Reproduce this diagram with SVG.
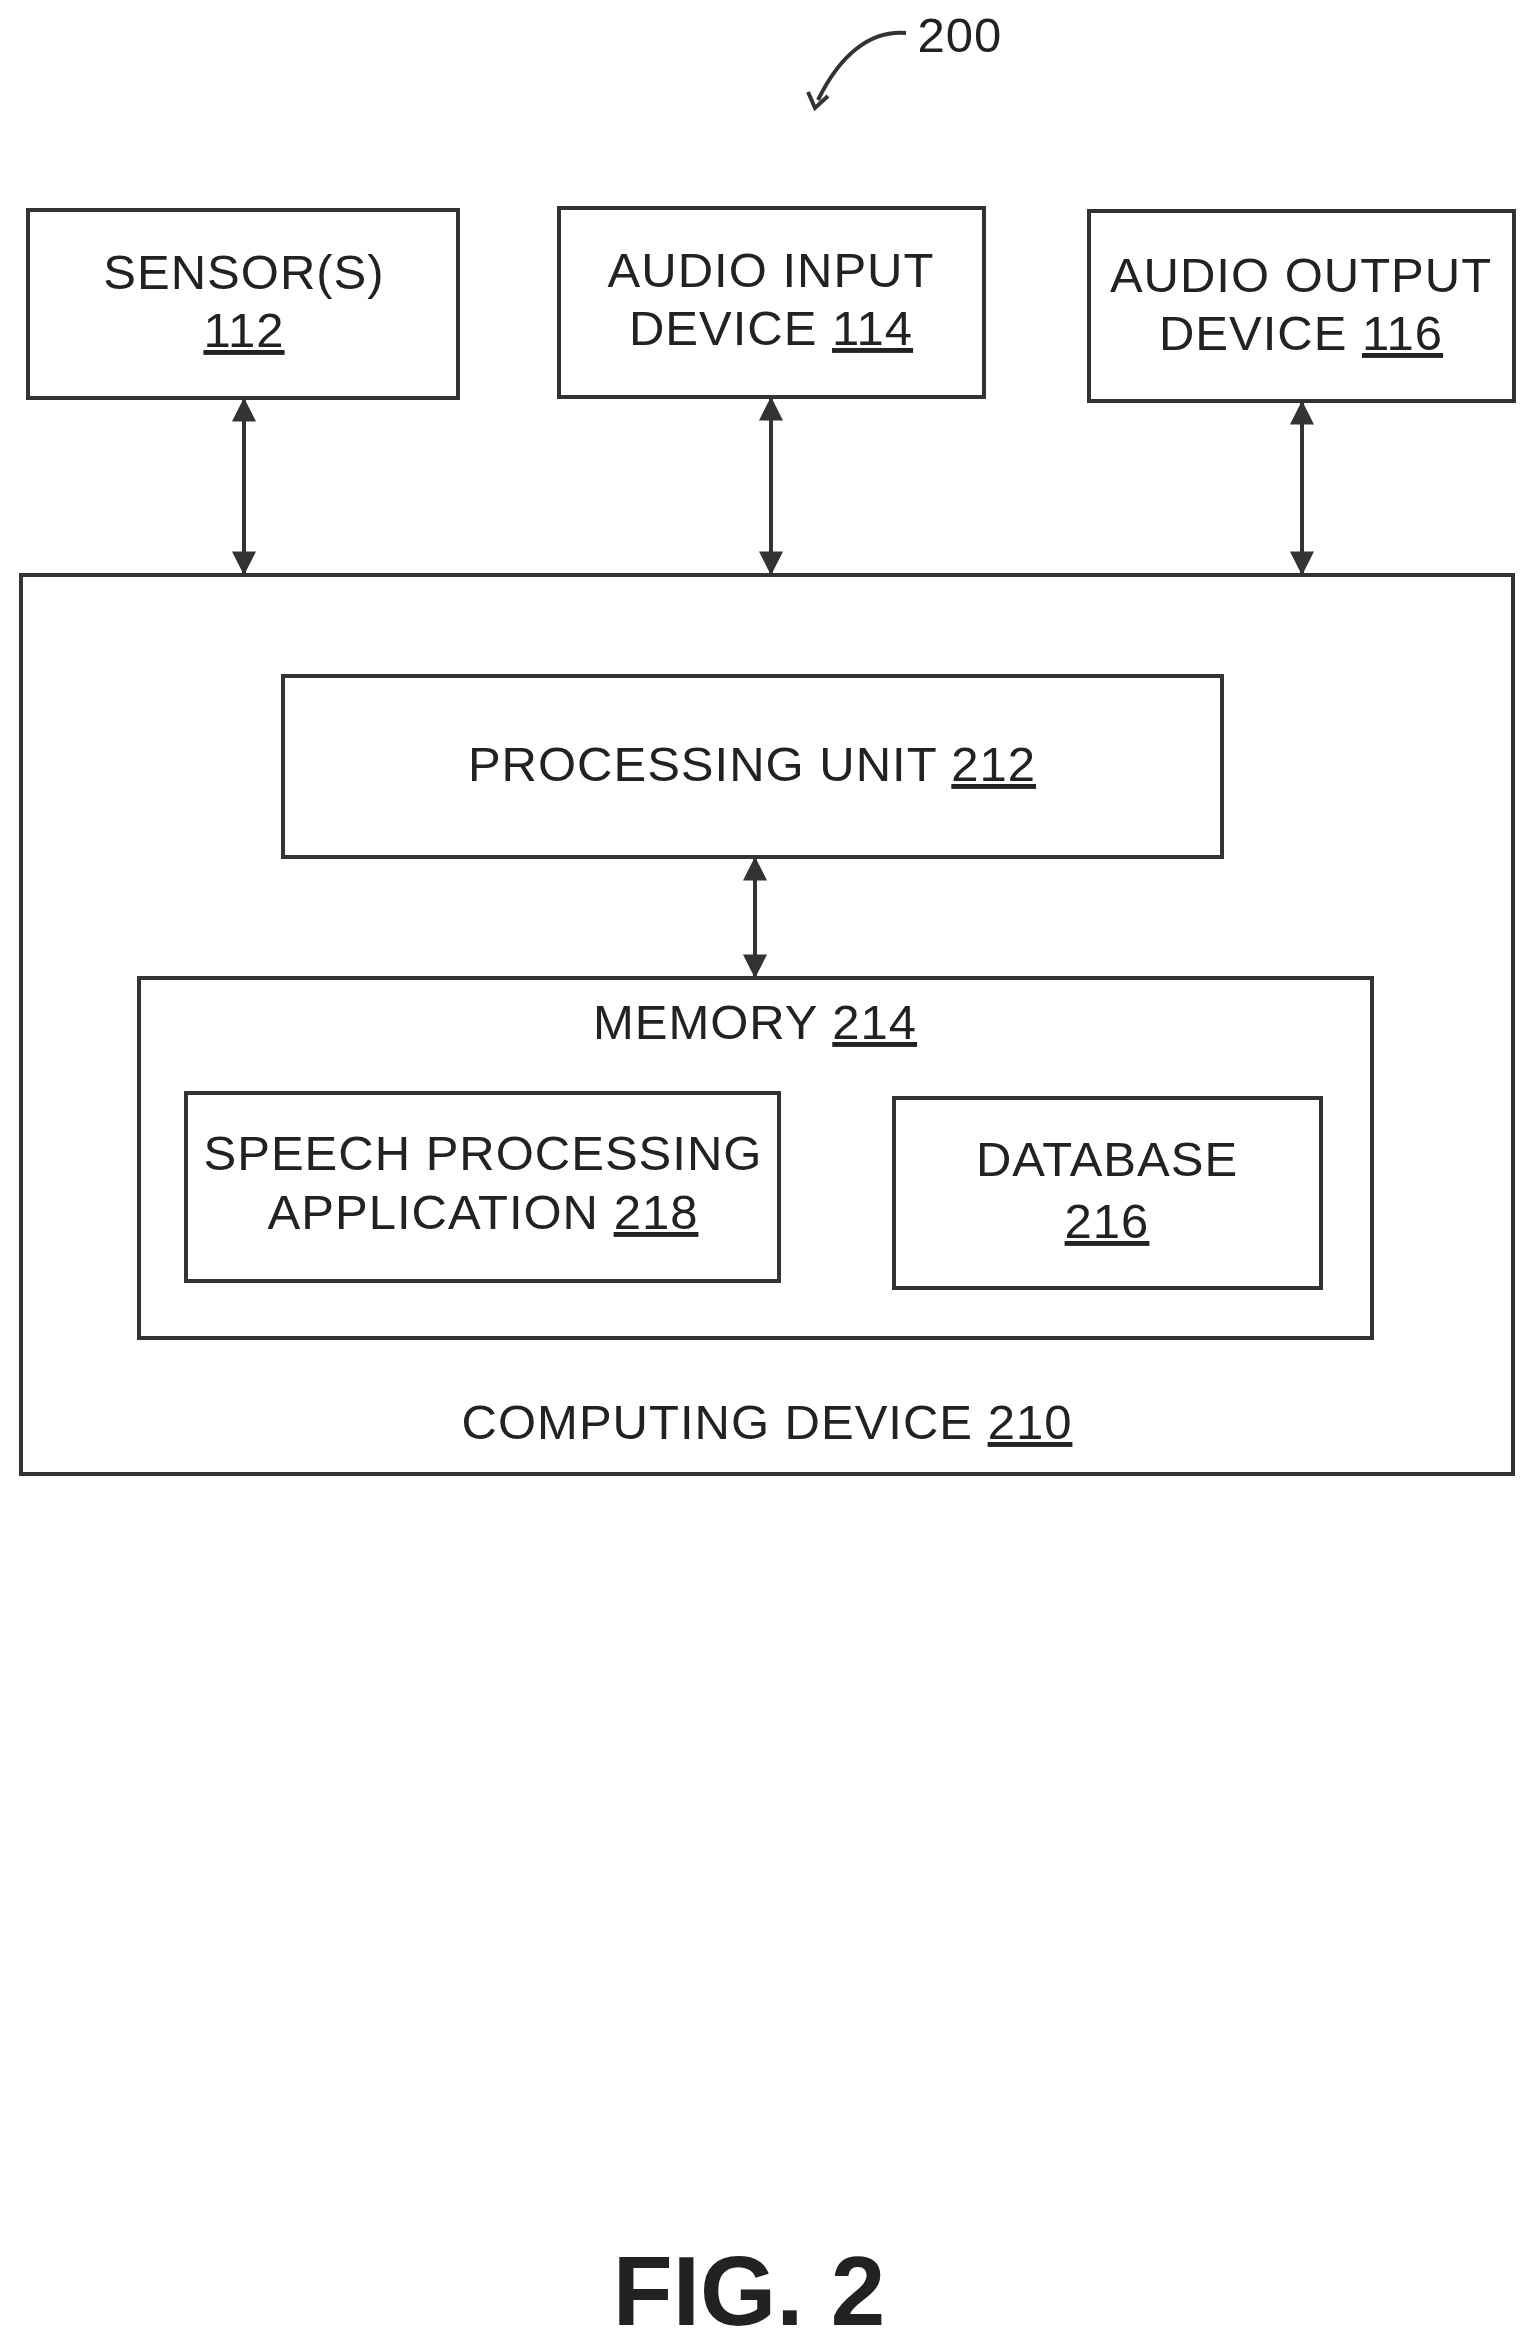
<svg xmlns="http://www.w3.org/2000/svg" width="1534" height="2344" viewBox="0 0 1534 2344">
<style>
.b{fill:none;stroke:#333;stroke-width:4}
.t{font-family:"Liberation Sans",Arial,sans-serif;font-size:49px;letter-spacing:1px;fill:#222;text-anchor:middle}
.u{text-decoration:underline}
.c{stroke:#333;stroke-width:4;fill:none;marker-start:url(#a);marker-end:url(#a)}
</style>
<defs>
<marker id="a" viewBox="0 0 10 10" refX="9" refY="5" markerWidth="6" markerHeight="6" orient="auto-start-reverse" markerUnits="strokeWidth"><path d="M0,0 L10,5 L0,10 z" fill="#333"/></marker>
</defs>
<rect width="1534" height="2344" fill="#fff"/>
<g id="ref200">
<text class="t" x="960" y="52">200</text>
<path d="M906,33 C870,30 840,55 818,100" class="b"/>
<path d="M808,92 L815,108 L828,96" class="b"/>
</g>
<g id="sensors"><rect class="b" x="28" y="210" width="430" height="188"/>
<text class="t" x="244" y="289">SENSOR(S)</text><text class="t u" x="244" y="347">112</text></g>
<g id="audioin"><rect class="b" x="559" y="208" width="425" height="189"/>
<text class="t" x="771" y="287">AUDIO INPUT</text><text class="t" x="771" y="345">DEVICE <tspan class="u">114</tspan></text></g>
<g id="audioout"><rect class="b" x="1089" y="211" width="425" height="190"/>
<text class="t" x="1301" y="292">AUDIO OUTPUT</text><text class="t" x="1301" y="350">DEVICE <tspan class="u">116</tspan></text></g>
<g id="computing"><rect class="b" x="21" y="575" width="1492" height="899"/>
<text class="t" x="767" y="1439">COMPUTING DEVICE <tspan class="u">210</tspan></text></g>
<g id="pu"><rect class="b" x="283" y="676" width="939" height="181"/>
<text class="t" x="752" y="781">PROCESSING UNIT <tspan class="u">212</tspan></text></g>
<g id="memory"><rect class="b" x="139" y="978" width="1233" height="360"/>
<text class="t" x="755" y="1039">MEMORY <tspan class="u">214</tspan></text></g>
<g id="speech"><rect class="b" x="186" y="1093" width="593" height="188"/>
<text class="t" x="483" y="1170">SPEECH PROCESSING</text><text class="t" x="483" y="1229">APPLICATION <tspan class="u">218</tspan></text></g>
<g id="database"><rect class="b" x="894" y="1098" width="427" height="190"/>
<text class="t" x="1107" y="1176">DATABASE</text><text class="t u" x="1107" y="1238">216</text></g>
<g id="connectors">
<line class="c" x1="244" y1="400" x2="244" y2="573"/>
<line class="c" x1="771" y1="399" x2="771" y2="573"/>
<line class="c" x1="1302" y1="403" x2="1302" y2="573"/>
<line class="c" x1="755" y1="859" x2="755" y2="976"/>
</g>
<text x="749" y="2325" style="font-family:'Liberation Sans',Arial,sans-serif;font-size:98px;font-weight:bold;fill:#222;text-anchor:middle">FIG. 2</text>
</svg>
